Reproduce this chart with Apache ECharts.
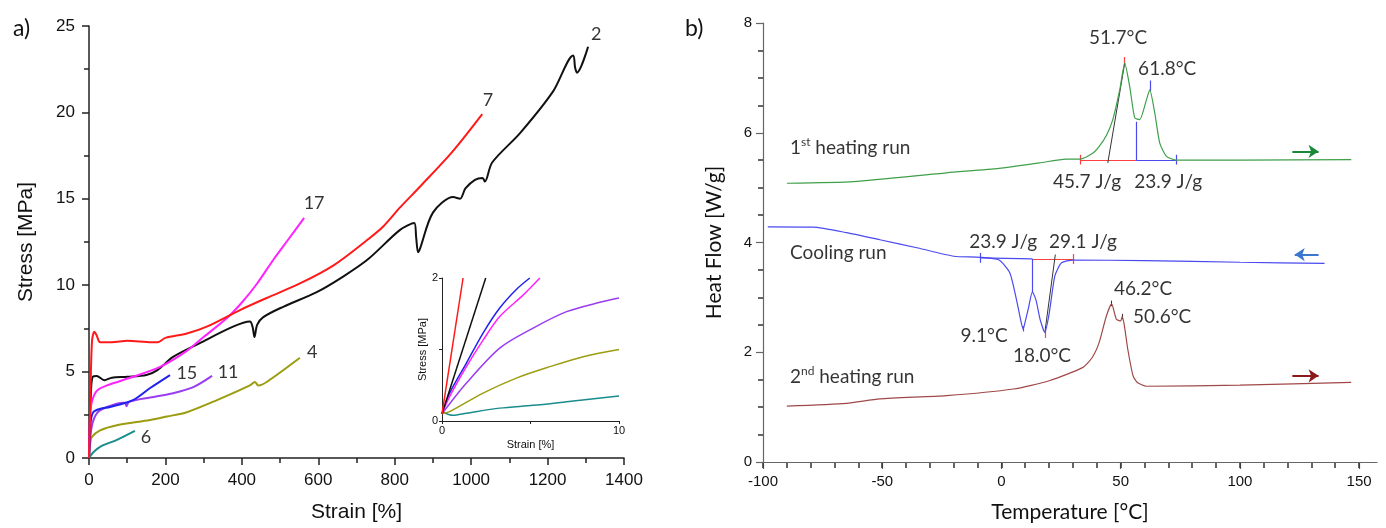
<!DOCTYPE html>
<html>
<head>
<meta charset="utf-8">
<script src="https://cdn.jsdelivr.net/npm/echarts@6/dist/echarts.min.js"></script>
<style>
  html, body { margin: 0; padding: 0; background: #fff; }
  #ec { width: 1386px; height: 528px; }
</style>
</head>
<body>
<div id="ec"></div>
<script>
// ---- panel a: stress-strain curves, [strain %, stress MPa]
const curve2 = [[0,0],[3,2.5],[6,4.2],[10,4.7],[20,4.75],[40,4.5],[60,4.65],[100,4.7],[150,4.8],[180,5.1],[220,5.85],[290,6.65],[377,7.6],[421,7.9],[428,7.6],[433,7.0],[440,7.7],[456,8.15],[508,8.75],[596,9.6],[665,10.5],[730,11.5],[814,13.2],[851,13.6],[856,12.8],[861,11.9],[866,12.1],[900,14.2],[953,15.1],[971,15.0],[985,15.6],[1010,16.1],[1030,16.2],[1036,16.0],[1055,17.1],[1128,18.8],[1214,21.2],[1267,23.3],[1272,22.6],[1277,22.3],[1306,23.8]];
const curve7 = [[0,0],[4,4],[8,6.8],[14,7.3],[20,7.1],[29,6.7],[60,6.7],[100,6.78],[150,6.72],[180,6.7],[200,6.95],[256,7.2],[308,7.6],[395,8.56],[465,9.26],[552,10.1],[640,11.15],[727,12.6],[770,13.4],[814,14.5],[866,15.7],[950,17.7],[1029,19.9]];
const curve17 = [[0,0],[3,2.5],[8,3.3],[21,3.9],[47,4.2],[115,4.7],[186,5.27],[256,6.2],[300,7.0],[361,8.1],[400,9.0],[440,10.1],[482,11.46],[520,12.6],[563,13.9]];
const curve15 = [[0,0],[4,2.0],[11,2.65],[30,2.85],[55,2.95],[115,3.35],[160,4.05],[212,4.8]];
const curve11 = [[0,0],[7,1.8],[21,2.6],[47,2.95],[90,3.2],[95,3.2],[98,3.0],[105,3.25],[160,3.5],[220,3.75],[273,4.1],[322,4.75]];
const curve4 = [[0,0],[3,0.8],[7,1.2],[29,1.6],[73,1.9],[160,2.2],[204,2.4],[256,2.65],[335,3.35],[421,4.2],[434,4.4],[443,4.2],[465,4.4],[552,5.8]];
const curve6 = [[0,0],[10,0.3],[29,0.65],[73,1.05],[120,1.57]];
// curve number labels [strain, stress, text]
const curveLabels = [[1327,24.5,'2'],[1044,20.7,'7'],[589,14.75,'17'],[256,4.92,'15'],[364,4.98,'11'],[584,6.13,'4'],[149,1.2,'6']];

// ---- inset: first 10 % of strain
const inset7 = [[0,0.1],[1.19,2.0]];
const inset2 = [[0,0.1],[2.47,2.0]];
const inset15 = [[0,0.1],[0.43,0.39],[1.38,0.81],[2.32,1.23],[3.26,1.58],[4.2,1.84],[4.96,2.0]];
const inset17 = [[0,0.1],[0.43,0.34],[1.38,0.76],[2.32,1.13],[3.26,1.46],[4.58,1.76],[5.53,2.0]];
const inset11 = [[0,0.1],[1.38,0.53],[3.26,1.02],[5.15,1.30],[7.04,1.53],[8.92,1.66],[10,1.72]];
const inset4 = [[0,0.1],[0.43,0.13],[2.32,0.39],[4.2,0.6],[6.1,0.76],[7.98,0.9],[10,1.0]];
const inset6 = [[0,0.13],[0.62,0.08],[1.38,0.11],[3.26,0.18],[5.15,0.22],[7.04,0.27],[10,0.35]];

// ---- panel b: DSC runs, [temperature C, heat flow W/g]
const heat1 = [[-90,5.08],[-62,5.11],[-23,5.27],[-1,5.35],[16,5.45],[27,5.52],[33,5.52],[38.4,5.63],[41,5.75],[44,5.95],[46.7,6.24],[49.6,6.78],[51.7,7.27],[53.8,6.84],[55.9,6.27],[58,6.24],[60.8,6.6],[62.2,6.78],[64.3,6.36],[66.4,5.81],[69.2,5.57],[73.4,5.50],[100,5.5],[146.7,5.51]];
const cooling = [[-98,4.285],[-79,4.28],[-65,4.18],[-51,4.05],[-35,3.9],[-20,3.75],[-9,3.73],[-1,3.68],[3.5,3.45],[6.3,2.96],[8,2.6],[9.1,2.42],[10.2,2.6],[11.2,2.78],[13,3.1],[14.5,2.95],[16.2,2.6],[18.2,2.36],[20,2.7],[22.4,3.39],[25.2,3.63],[30,3.68],[60,3.67],[100,3.64],[135.5,3.62]];
const heat2 = [[-90,1.02],[-65,1.07],[-51,1.15],[-23,1.21],[5,1.33],[20,1.48],[34,1.72],[38,1.9],[41,2.18],[44,2.66],[46.2,2.88],[48.2,2.6],[50,2.57],[50.6,2.65],[51.5,2.5],[53,2.05],[55.2,1.57],[57,1.45],[60.8,1.38],[100,1.4],[146.7,1.45]];
// integration construction segments
const redSegs = [[[33,5.5],[56.5,5.5]],[[33,5.42],[33,5.6]],[[51.7,7.24],[51.7,7.38]],[[13,3.70],[30,3.70]],[[30,3.61],[30,3.79]],[[18.2,2.26],[18.2,2.4]]];
const blueSegs = [[[56.5,5.5],[73.5,5.5]],[[73.5,5.42],[73.5,5.6]],[[56.5,5.5],[56.5,6.2]],[[62.2,6.76],[62.2,6.95]],[[-9,3.72],[13,3.70]],[[-9,3.63],[-9,3.81]],[[13,3.70],[13,3.1]],[[9.1,2.38],[9.1,2.48]]];
const blackSegs = [[[44.6,5.45],[51.7,7.27]],[[18.2,2.36],[22.6,3.78]],[[46.2,2.84],[46.2,2.94]],[[50.6,2.6],[50.6,2.7]]];
const arrowHeat1 = [[122,5.66],[133,5.66]];
const arrowCool = [[133,3.78],[123,3.78]];
const arrowHeat2 = [[122,1.57],[133,1.57]];
const dscLabels = [[48.9,7.73,'51.7°C'],[69.5,7.16,'61.8°C'],[35.9,5.11,'45.7 J/g'],[69.9,5.11,'23.9 J/g'],[0.7,4.02,'23.9 J/g'],[34.2,4.02,'29.1 J/g'],[-7.3,2.29,'9.1°C'],[17.0,1.93,'18.0°C'],[59.4,3.15,'46.2°C'],[67.4,2.64,'50.6°C']];
const runLabels = [[-88.7,5.73,'1{s|st} heating run'],[-88.7,3.82,'Cooling run'],[-88.7,1.56,'2{s|nd} heating run']];
const bMajor = [-100, -50, 0, 50, 100, 150];

const ARIAL = 'Liberation Sans';
const CAL = 'Lato';

function lineA(data, color, xi, width) {
  return { type: 'line', xAxisIndex: xi, yAxisIndex: xi, data: data, showSymbol: false,
    smooth: 0.3, lineStyle: { color: color, width: width }, silent: true };
}
function segs(list, color, width) {
  return { type: 'lines', coordinateSystem: 'cartesian2d', xAxisIndex: 2, yAxisIndex: 2,
    data: list.map(c => ({ coords: c })), lineStyle: { color: color, width: width || 1, opacity: 1 }, silent: true };
}
function arrow(coords, color) {
  return { type: 'lines', coordinateSystem: 'cartesian2d', xAxisIndex: 2, yAxisIndex: 2,
    symbol: ['none', 'arrow'], symbolSize: [10, 10],
    data: [{ coords: coords }], lineStyle: { color: color, width: 2, opacity: 1 }, silent: true };
}
function texts(list, axis, font, size, align) {
  return { type: 'scatter', xAxisIndex: axis, yAxisIndex: axis, symbolSize: 0, silent: true,
    data: list.map(l => ({ value: [l[0], l[1]], name: l[2] })),
    label: { show: true, position: 'inside', formatter: p => p.name, color: '#000',
      fontFamily: font, fontSize: size, align: align || 'center', verticalAlign: 'middle',
      rich: { s: { fontFamily: font, fontSize: 12, verticalAlign: 'top', padding: [0, 0, 10, 0], color: '#000' } } } };
}
function valAxis(o) {
  return Object.assign({
    type: 'value', splitLine: { show: false },
    axisLine: { show: true, onZero: false, lineStyle: { color: '#222', width: 1.5 } },
    axisTick: { show: true, length: 7, lineStyle: { color: '#222', width: 1.5 } },
    minorTick: { show: true, splitNumber: 2, length: 5, lineStyle: { color: '#222', width: 1.5 } },
    axisLabel: { color: '#111', fontFamily: ARIAL, fontSize: 17, margin: 14, formatter: v => String(v) },
    nameLocation: 'middle', nameTextStyle: { color: '#111', fontFamily: ARIAL, fontSize: 21 }
  }, o);
}

const grayLine = { color: '#666', width: 1.2 };

const option = {
  animation: false,
  title: [
    { text: 'a)', left: 8, top: 12, textStyle: { fontFamily: CAL, fontSize: 23, fontWeight: 'normal', color: '#111' } },
    { text: 'b)', left: 680, top: 12, textStyle: { fontFamily: CAL, fontSize: 23, fontWeight: 'normal', color: '#111' } }
  ],
  grid: [
    { left: 89, top: 26, width: 535, height: 432 },
    { left: 442, top: 278, width: 177, height: 143 },
    { left: 763, top: 23, width: 614, height: 440 },
    // same panel b area up to 150 C, only for the small 10 C ticks
    { left: 763, top: 23, width: 596, height: 440 }
  ],
  xAxis: [
    valAxis({ gridIndex: 0, min: 0, max: 1400, interval: 200, name: 'Strain [%]', nameGap: 44 }),
    valAxis({ gridIndex: 1, min: 0, max: 10, interval: 5, name: 'Strain [%]', nameGap: 18,
      nameTextStyle: { color: '#111', fontFamily: ARIAL, fontSize: 11 },
      axisTick: { length: 3, lineStyle: { color: '#222' } }, minorTick: { show: false },
      axisLine: { onZero: false, lineStyle: { color: '#222', width: 1 } },
      axisLabel: { color: '#111', fontFamily: ARIAL, fontSize: 11, margin: 4, formatter: v => (v === 5 ? '' : String(v)) } }),
    valAxis({ gridIndex: 2, position: 'bottom', min: -100, max: 157.5, name: 'Temperature [°C]', nameGap: 40,
      nameTextStyle: { color: '#111', fontFamily: CAL, fontSize: 21 },
      axisLine: { onZero: false, lineStyle: grayLine },
      axisTick: { length: 7, lineStyle: grayLine, customValues: bMajor },
      minorTick: { show: false },
      axisLabel: { color: '#111', fontFamily: ARIAL, fontSize: 15, margin: 12, customValues: bMajor, formatter: v => String(v) } }),
    valAxis({ gridIndex: 3, position: 'bottom', min: -100, max: 150, interval: 10,
      axisLine: { show: true, onZero: false, lineStyle: { color: '#666', width: 1.2, opacity: 0 } },
      axisTick: { show: true, length: 5, lineStyle: { color: '#333', width: 1.5, opacity: 1 } },
      minorTick: { show: false }, axisLabel: { show: false } })
  ],
  yAxis: [
    valAxis({ gridIndex: 0, min: 0, max: 25, interval: 5, name: 'Stress [MPa]', nameGap: 52 }),
    valAxis({ gridIndex: 1, min: 0, max: 2, interval: 1, name: 'Stress [MPa]', nameGap: 14,
      nameTextStyle: { color: '#111', fontFamily: ARIAL, fontSize: 11 },
      axisTick: { length: 3, lineStyle: { color: '#222' } }, minorTick: { show: false },
      axisLine: { onZero: false, lineStyle: { color: '#222', width: 1 } },
      axisLabel: { color: '#111', fontFamily: ARIAL, fontSize: 11, margin: 4, formatter: v => (v === 1 ? '' : String(v)) } }),
    valAxis({ gridIndex: 2, position: 'left', min: 0, max: 8, interval: 2, name: 'Heat Flow [W/g]', nameGap: 38,
      nameTextStyle: { color: '#111', fontFamily: CAL, fontSize: 21 },
      axisLine: { onZero: false, lineStyle: grayLine },
      axisTick: { length: 7, lineStyle: grayLine },
      minorTick: { show: true, splitNumber: 4, length: 5, lineStyle: { color: '#333', width: 1.5 } },
      axisLabel: { color: '#111', fontFamily: ARIAL, fontSize: 15, margin: 11 } }),
    { type: 'value', gridIndex: 3, min: 0, max: 8, show: false }
  ],
  series: [
    lineA(curve6, '#1a8c8c', 0, 2),
    lineA(curve4, '#9c9c10', 0, 2),
    lineA(curve11, '#9a3cf0', 0, 2),
    lineA(curve15, '#2222ee', 0, 2),
    lineA(curve2, '#111111', 0, 2),
    lineA(curve17, '#ff22ff', 0, 2),
    lineA(curve7, '#ff1a1a', 0, 2),
    texts(curveLabels, 0, CAL, 18),
    lineA(inset6, '#1a8c8c', 1, 1.5),
    lineA(inset4, '#9c9c10', 1, 1.5),
    lineA(inset11, '#9a3cf0', 1, 1.5),
    lineA(inset15, '#2222ee', 1, 1.5),
    lineA(inset17, '#ff22ff', 1, 1.5),
    lineA(inset2, '#111111', 1, 1.5),
    lineA(inset7, '#ff1a1a', 1, 1.5),
    Object.assign(lineA(heat1, '#3f9f4a', 2, 1.2), { smooth: 0.2 }),
    Object.assign(lineA(cooling, '#4a4af0', 2, 1.2), { smooth: 0.2 }),
    Object.assign(lineA(heat2, '#a04848', 2, 1.2), { smooth: 0.2 }),
    segs(redSegs, '#ff4040', 1.2),
    segs(blueSegs, '#4a4af0', 1.2),
    segs(blackSegs, '#333333', 1),
    arrow(arrowHeat1, '#1a8a3a'),
    arrow(arrowCool, '#3a78d0'),
    arrow(arrowHeat2, '#8b1a1a'),
    texts(dscLabels, 2, CAL, 19),
    texts(runLabels, 2, CAL, 19, 'left'),
    { type: 'line', xAxisIndex: 3, yAxisIndex: 3, data: [[-100, 0]], showSymbol: false, lineStyle: { opacity: 0 }, silent: true }
  ]
};

var myChart = echarts.init(document.getElementById('ec'));
myChart.setOption(option);
</script>
</body>
</html>
